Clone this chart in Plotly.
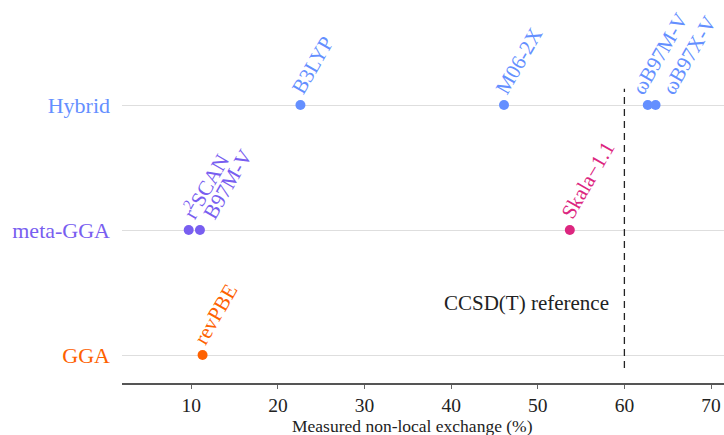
import plotly.graph_objects as go

# Data
categories = ["GGA", "meta-GGA", "Hybrid"]
category_colors = ["#FE6100", "#785EF0", "#648FFF"]

functionals = ["revPBE", "r<sup>2</sup>SCAN", "B97M-V", "B3LYP", "M06-2X",
               "ωB97M-V", "ωB97X-V", "Skala−1.1"]
func_category = ["GGA", "meta-GGA", "meta-GGA", "Hybrid", "Hybrid",
                 "Hybrid", "Hybrid", "meta-GGA"]
exchange_pct = [11.3, 9.7, 11.0, 22.6, 46.1, 62.7, 63.6, 53.7]
point_colors = ["#FE6100", "#785EF0", "#785EF0", "#648FFF", "#648FFF",
                "#648FFF", "#648FFF", "#DC267F"]

ccsd_ref = 60
x_ticks = [10, 20, 30, 40, 50, 60, 70]
x_title = "Measured non-local exchange (%)"

# label nudges (pixels) to keep neighbouring labels apart
label_nudge = [0, 0, 12, 0, 0, -7, 15, 0]

FONT = "Liberation Serif"
cat_index = {c: i for i, c in enumerate(categories)}
yvals = [cat_index[c] for c in func_category]

fig = go.Figure()
fig.add_trace(go.Scatter(
    x=exchange_pct, y=yvals, mode="markers",
    marker=dict(size=10, color=point_colors, line=dict(width=0)),
    cliponaxis=False, showlegend=False, hoverinfo="skip"))

annotations = []
for name, xv, yv, col, nd in zip(functionals, exchange_pct, yvals,
                                 point_colors, label_nudge):
    annotations.append(dict(
        x=xv, y=yv, xref="x", yref="y", text=name, showarrow=False,
        textangle=-60, xanchor="left", yanchor="bottom",
        xshift=-16 + nd, yshift=4,
        font=dict(family=FONT, size=21, color=col)))

annotations.append(dict(
    x=58.4, y=0.42, xref="x", yref="y", text="CCSD(T) reference",
    showarrow=False, xanchor="right", yanchor="middle",
    font=dict(family=FONT, size=21, color="#222222")))

# x-axis title (placed as annotation to match the reference's offset)
annotations.append(dict(
    x=0.4826, y=-0.113, xref="paper", yref="paper", text=x_title,
    showarrow=False, xanchor="center", yanchor="middle", borderpad=0,
    font=dict(family=FONT, size=17.5, color="#222222")))

fig.add_shape(type="line", xref="x", yref="y", x0=ccsd_ref, x1=ccsd_ref,
              y0=-0.104, y1=2.13,
              line=dict(color="#222222", width=1.3, dash="7px,5px"))

ticktext = [f'<span style="color:{c}">{t}</span>'
            for t, c in zip(categories, category_colors)]

fig.update_layout(
    width=724, height=435,
    margin=dict(l=122, r=0, t=0, b=52),
    plot_bgcolor="white", paper_bgcolor="white",
    font=dict(family=FONT, size=20, color="#222222"),
    annotations=annotations,
    xaxis=dict(
        range=[2.0, 71.5], tickvals=x_ticks, ticks="outside", ticklen=4,
        tickcolor="#666666", showgrid=False, zeroline=False,
        showline=True, linecolor="#555555", linewidth=1.5,
        tickfont=dict(family=FONT, size=19.5, color="#222222")),
    yaxis=dict(
        range=[-0.224, 2.84], tickvals=[0, 1, 2], ticktext=ticktext,
        ticks="", showgrid=True, gridcolor="#dedede", gridwidth=1,
        zeroline=False, showline=False, ticklabelstandoff=11,
        tickfont=dict(family=FONT, size=22)),
)

fig.write_html(
    "out.html",
    config={"displayModeBar": False},
    post_script="document.body.style.margin='0';"
                "document.body.style.overflow='hidden';")
